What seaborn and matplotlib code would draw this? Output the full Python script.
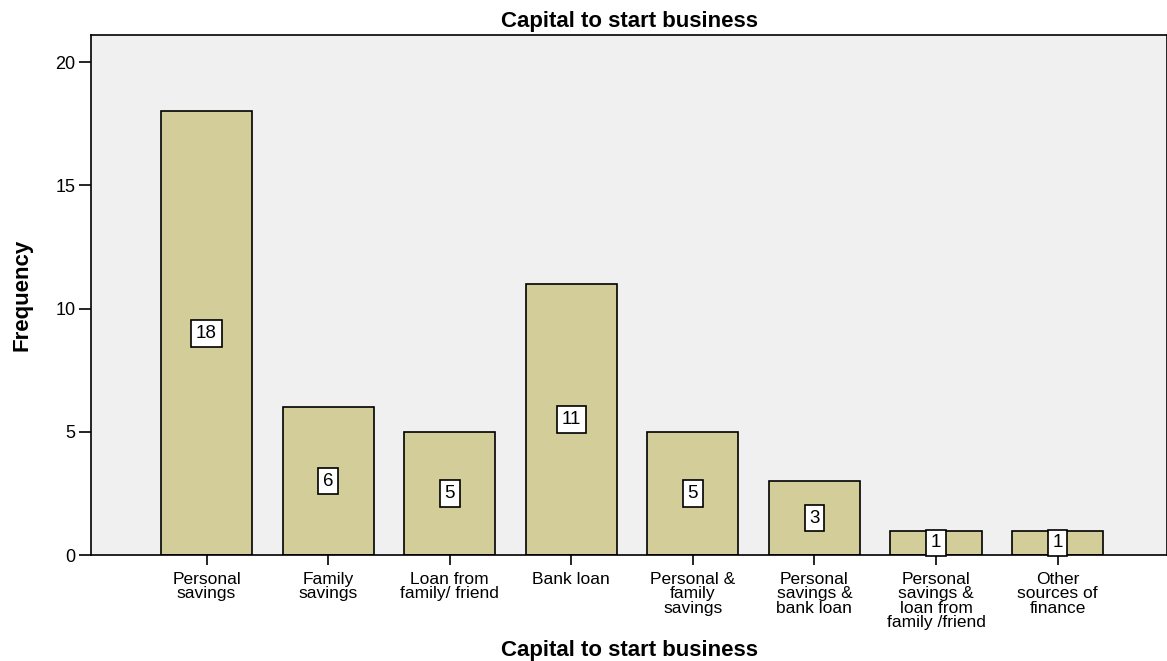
import matplotlib
matplotlib.use("Agg")
import matplotlib.pyplot as plt
import seaborn as sns
import pandas as pd

categories = [
    "Personal\nsavings",
    "Family\nsavings",
    "Loan from\nfamily/ friend",
    "Bank loan",
    "Personal &\nfamily\nsavings",
    "Personal\nsavings &\nbank loan",
    "Personal\nsavings &\nloan from\nfamily /friend",
    "Other\nsources of\nfinance",
]
frequency = [18, 6, 5, 11, 5, 3, 1, 1]
y_ticks = [0, 5, 10, 15, 20]

sns.set_style("white")
plt.rcParams["font.family"] = ["Liberation Sans", "DejaVu Sans"]
plt.rcParams["text.color"] = "black"
plt.rcParams["axes.labelcolor"] = "black"
plt.rcParams["xtick.color"] = "black"
plt.rcParams["ytick.color"] = "black"

df = pd.DataFrame({"source": categories, "freq": frequency})

fig = plt.figure(figsize=(11.67, 6.61), dpi=100)
ax = fig.add_axes([0.078, 0.160, 0.922, 0.787])
ax.set_facecolor("#F0F0F0")

sns.barplot(data=df, x="source", y="freq", color="#D3CE99", saturation=1,
            width=0.75, edgecolor="black", linewidth=1.2, ax=ax)

# value labels in boxes at mid-height of each bar
for i, v in enumerate(frequency):
    ax.text(i, v / 2, str(v), ha="center", va="center", fontsize=13.5,
            bbox=dict(boxstyle="square,pad=0.25", fc="white", ec="black", lw=1.2))

ax.set_xlim(-0.95, 7.9)
ax.set_ylim(0, 21.1)
ax.set_yticks(y_ticks)
ax.tick_params(axis="y", direction="out", length=9, width=1.2, labelsize=13,
               left=True, pad=2)
ax.tick_params(axis="x", direction="out", length=7, width=1.2, labelsize=12.5,
               bottom=True, pad=5)
for lbl in ax.get_xticklabels():
    lbl.set_linespacing(0.95)

for side in ["left", "bottom", "top", "right"]:
    ax.spines[side].set_color("black")
    ax.spines[side].set_linewidth(1.2)

ax.set_title("Capital to start business", fontsize=16, fontweight="bold", pad=6)
ax.set_xlabel("Capital to start business", fontsize=16, fontweight="bold")
ax.set_ylabel("Frequency", fontsize=16, fontweight="bold", fontstretch="condensed")
ax.xaxis.set_label_coords(0.5, -0.183)
ax.yaxis.set_label_coords(-0.064, 0.5)
ax.xaxis.label.set_va("center")
ax.yaxis.label.set_va("center")

fig.savefig("out.png", dpi=100)
